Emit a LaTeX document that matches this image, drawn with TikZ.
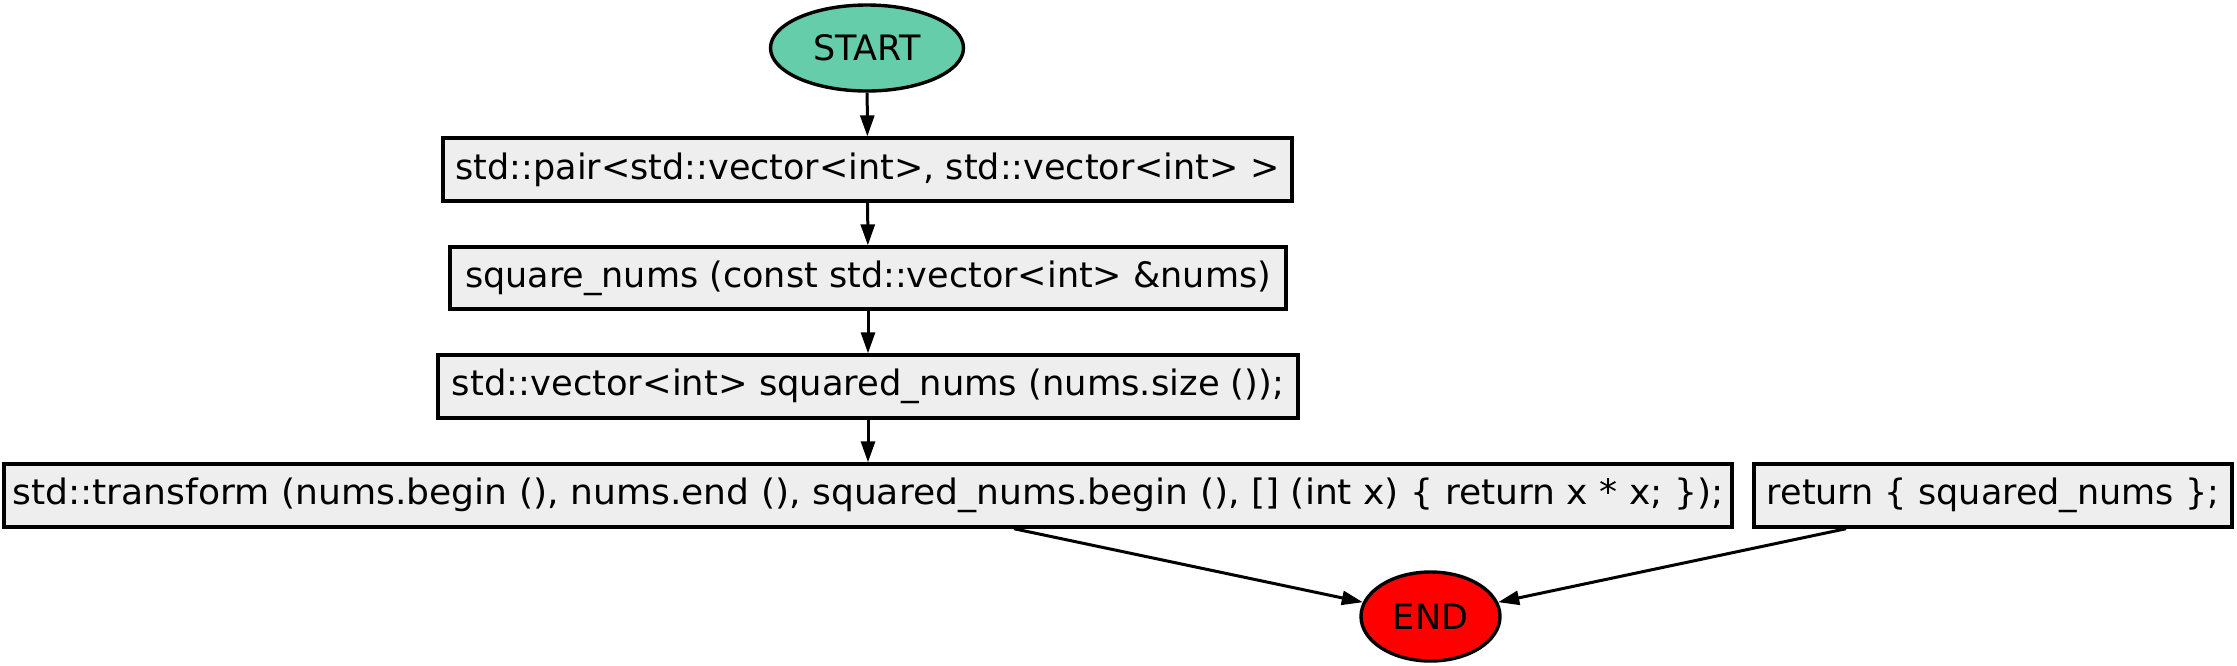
\documentclass[tikz,border=0pt]{standalone}
\usepackage{fontspec}
\setmainfont{DejaVu Sans}
\usetikzlibrary{arrows.meta,shapes.geometric}
\definecolor{boxfill}{HTML}{EEEEEE}
\definecolor{startfill}{HTML}{66CDAA}
\definecolor{endfill}{HTML}{FF0000}
\tikzset{
  every node/.style={font=\fontsize{17.5}{21}\selectfont, text=black},
  stepbox/.style={draw=black, line width=1.7pt, fill=boxfill, inner sep=0pt, minimum height=31.5pt},
  terminal/.style={ellipse, draw=black, line width=1.7pt, inner sep=0pt},
  flow/.style={line width=1.5pt, -{Triangle[length=10.5pt,width=7pt]}}
}
\begin{document}
\begin{tikzpicture}[x=0.5pt,y=-0.5pt]
\useasboundingbox (0,0) rectangle (2237,665);
\node[terminal, fill=startfill, minimum width=96.5pt, minimum height=43pt] (start) at (867,48) {START};
\node[stepbox, minimum width=424.5pt] (b1) at (867.5,169.5) {std::pair<std::vector<int>, std::vector<int> >};
\node[stepbox, minimum width=418pt, minimum height=31pt] (b2) at (868,278) {square\_nums (const std::vector<int> \&nums)};
\node[stepbox, minimum width=430pt] (b3) at (868,386.5) {\scalebox{1.01}[1]{std::vector<int> squared\_nums (nums.size ());}};
\node[stepbox, minimum width=864pt] (b4) at (868,495.5) {\scalebox{1.032}[1]{std::transform (nums.begin (), nums.end (), squared\_nums.begin (), [] (int x) \{ return x * x; \});}};
\node[stepbox, minimum width=239pt] (b5) at (1993,495.5) {return \{ squared\_nums \};};
\node[terminal, fill=endfill, minimum width=69.5pt, minimum height=44.5pt] (end) at (1430.5,616.5) {END};
\draw[flow] (start) -- (b1);
\draw[flow] (b1) -- (b2);
\draw[flow] (b2) -- (b3);
\draw[flow] (b3) -- (b4);
\draw[flow] ([xshift=73pt]b4.south) -- (end);
\draw[flow] ([xshift=-73.5pt]b5.south) -- (end);
\end{tikzpicture}
\end{document}
